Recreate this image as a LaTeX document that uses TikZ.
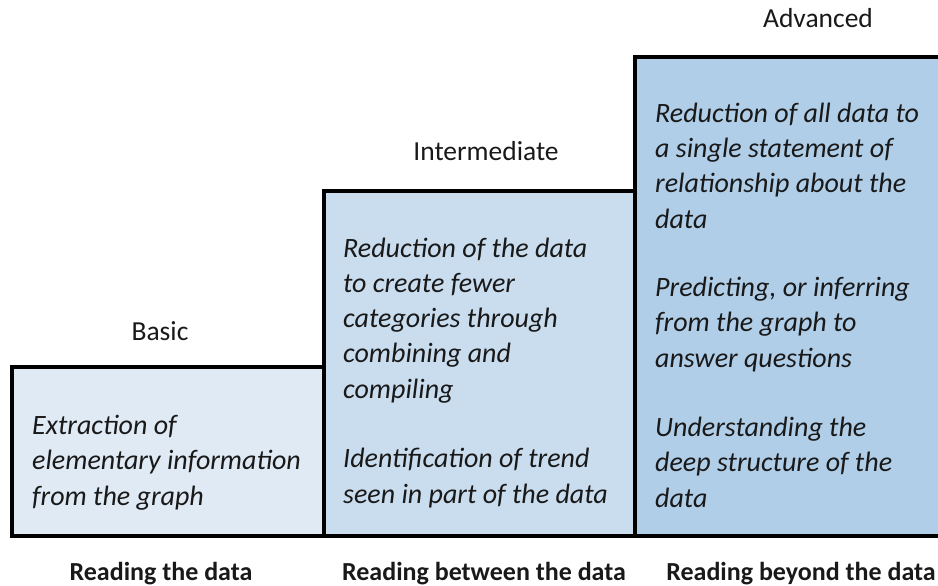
\documentclass[tikz,border=0pt]{standalone}
\usepackage{fontspec}
\setmainfont{Carlito}
\definecolor{fillA}{RGB}{224,234,245}
\definecolor{fillB}{RGB}{202,221,239}
\definecolor{fillC}{RGB}{176,206,232}
\definecolor{ink}{RGB}{25,25,25}
\tikzset{
  levelbox/.style={draw=black, line width=4pt},
  bodytext/.style={anchor=base west, align=left, inner sep=0pt, text=ink,
    font=\fontsize{28}{35.2}\selectfont\itshape},
  headtext/.style={anchor=base, inner sep=0pt, text=ink,
    font=\fontsize{27.5}{33}\selectfont},
  foottext/.style={anchor=base, inner sep=0pt, text=ink,
    font=\fontsize{26}{31}\selectfont\bfseries},
}
\begin{document}
\begin{tikzpicture}[x=1pt,y=-1pt]
\clip (0,0) rectangle (938,586);
\path[use as bounding box] (0,0) rectangle (938,586);
% boxes
\path[levelbox, fill=fillA] (12,367) rectangle (324,536);
\path[levelbox, fill=fillB] (324,191) rectangle (635,536);
\path[levelbox, fill=fillC] (635,57) rectangle (950,536);
% headings
\node[headtext] (hbasic) at (160,340) {Basic};
\node[headtext] (hinter) at (486,160) {Intermediate};
\node[headtext] (hadv) at (818,28) {Advanced};
% body texts (anchored at the baseline of the last line)
\node[bodytext] (tbasic) at (32,505) {Extraction of\\elementary information\\from the graph};
\node[bodytext] (tinter1) at (343,398) {Reduction of the data\\to create fewer\\categories through\\combining and\\compiling};
\node[bodytext] (tinter2) at (343,503) {Identification of trend\\seen in part of the data};
\node[bodytext] (tadv1) at (655,228) {Reduction of all data to\\a single statement of\\relationship about the\\data};
\node[bodytext] (tadv2) at (655,367) {Predicting, or inferring\\from the graph to\\answer questions};
\node[bodytext] (tadv3) at (655,507) {Understanding the\\deep structure of the\\data};
% footers
\node[foottext] (fbasic) at (161,580) {Reading the data};
\node[foottext] (finter) at (484,580) {Reading between the data};
\node[foottext] (fadv) at (801,580) {Reading beyond the data};
\end{tikzpicture}
\end{document}
